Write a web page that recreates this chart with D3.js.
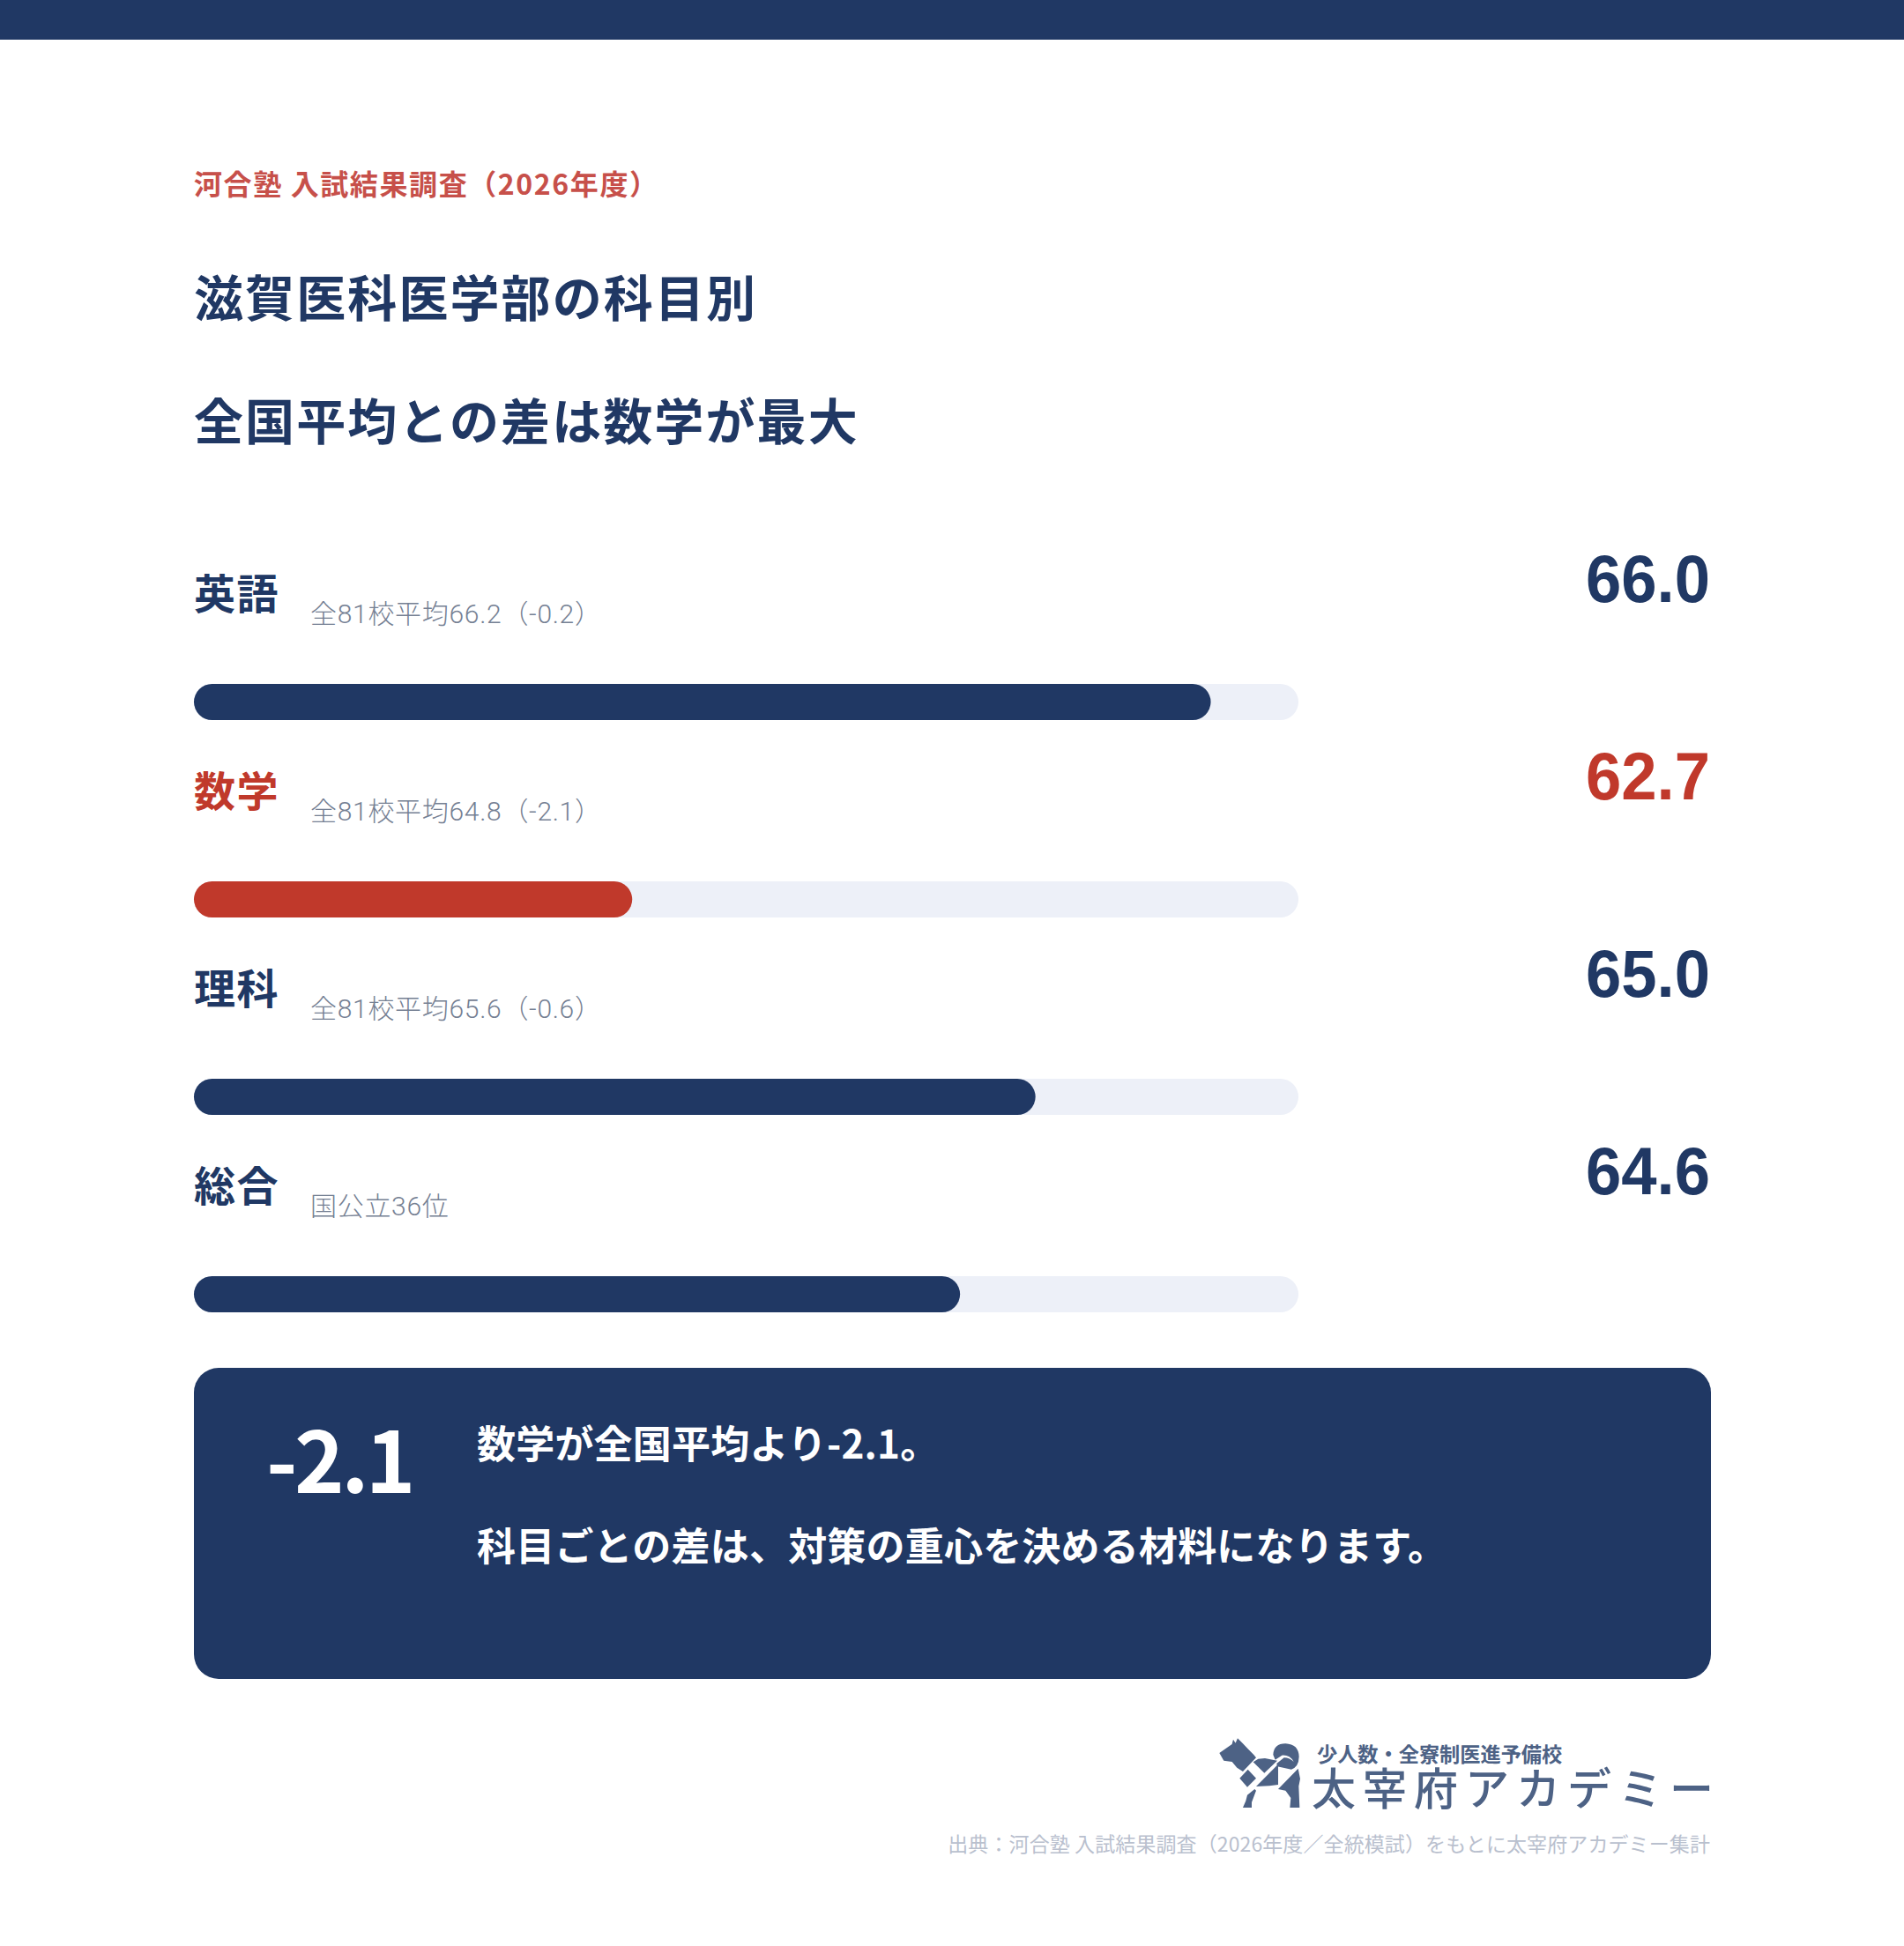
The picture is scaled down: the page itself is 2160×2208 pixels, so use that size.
<!DOCTYPE html>
<html lang="ja"><head><meta charset="utf-8">
<script src="https://cdn.jsdelivr.net/npm/d3@7"></script>
<style>html,body{margin:0;padding:0;background:#fff}svg{display:block}text{font-family:"Noto Sans CJK JP",sans-serif}text.num{font-family:"Liberation Sans",sans-serif}text.note{font-family:"Roboto","Noto Sans CJK JP",sans-serif}</style>
</head><body><svg id="c" width="2160" height="2208"></svg>
<script>
const subjects=["英語","数学","理科","総合"];
const values=[66.0,62.7,65.0,64.57];
const notes=["全81校平均66.2（-0.2）","全81校平均64.8（-2.1）","全81校平均65.6（-0.6）","国公立36位"];
const highlighted=["数学"];
const eyebrow="河合塾 入試結果調査（2026年度）";
const titleLines=["滋賀医科医学部の科目別","全国平均との差は数学が最大"];
const calloutValue="-2.1";
const calloutLines=["数学が全国平均より-2.1。","科目ごとの差は、対策の重心を決める材料になります。"];
const logoLines=["少人数・全寮制医進予備校","太宰府アカデミー"];
const source="出典：河合塾 入試結果調査（2026年度／全統模試）をもとに太宰府アカデミー集計";

const navy="#203864",red="#c0392b",track="#edf0f8";
const svg=d3.select("#c");
svg.append("rect").attr("width",2160).attr("height",2208).attr("fill","#fff");
svg.append("rect").attr("width",2160).attr("height",45).attr("fill",navy);
const L=220,R=1940;
const x=d3.scaleLinear().domain([60.2,66.5]).range([L,1473]);
const y=d3.scalePoint().domain(subjects).range([776,1448]);
function t(s,px,py,size,fill,weight,anchor,ls){return svg.append("text").text(s).attr("x",px).attr("y",py).attr("font-size",size).attr("fill",fill).attr("font-weight",weight||400).attr("text-anchor",anchor||"start").style("letter-spacing",(ls||0)+"px");}
t(eyebrow,L,221,32,"#c7504a",700,"start",1.6);
titleLines.forEach((s,i)=>t(s,L,359+i*140,56,navy,700,"start",2.1));
const rows=svg.selectAll("g.row").data(subjects).join("g").attr("class","row");
rows.each(function(d,i){
 const col=highlighted.includes(d)?red:navy, by=y(d);
 t(d,L,by-85,47,col,700,"start",1.4);
 t(notes[i],352,by-69,30,"#758093",300,"start",0.7).attr("class","note");
 t(values[i].toFixed(1),R,by-93,76,col,700,"end").attr("class","num").attr("textLength",141).attr("lengthAdjust","spacingAndGlyphs");
 svg.append("rect").attr("x",L).attr("y",by).attr("width",x.range()[1]-L).attr("height",41).attr("rx",20.5).attr("fill",track);
 svg.append("rect").attr("x",L).attr("y",by).attr("width",x(values[i])-L).attr("height",41).attr("rx",20.5).attr("fill",col);
});
svg.append("rect").attr("x",L).attr("y",1552).attr("width",R-L+1).attr("height",353).attr("rx",28).attr("fill",navy);
t(calloutValue,302,1694,96,"#fff",700,"start",-3.5);
t(calloutLines[0],541,1655,44,"#fff",700,"start",0.2);
t(calloutLines[1],541,1771,44,"#fff",700,"start",0.2);
const logo="#4d6285";
const g=svg.append("g").attr("fill",logo).attr("transform","translate(1375,1965) scale(0.3333)");
["M25 72 L68 42 L72 26 L80 38 L87 22 L105 40 L122 58 L142 78 L150 88 L105 135 L85 122 L68 102 L40 98 Z",
 "M157 92 L180 90 L222 98 L178 140 L140 103 Z",
 "M122 128 L150 158 L120 188 L94 158 Z",
 "M150 186 L225 110 L225 180 L195 184 Z",
 "M120 215 L145 195 L150 200 L135 240 L135 258 L105 258 L115 235 Z",
 "M208 78 Q210 40 250 40 Q295 42 296 85 Q295 120 270 128 L222 118 L220 108 L245 88 Q265 88 278 102 Q265 78 238 80 L215 95 Z",
 "M293 125 L300 160 L295 185 L298 258 L265 258 L268 225 L250 200 L225 195 Z"
].forEach(d=>g.append("path").attr("d",d));
t(logoLines[0],1494,1999,23.2,logo,700);
t(logoLines[1],1488,2048,50,logo,500,"start",8);
t(source,R,2101,23,"#b9c0ce",400,"end",0.1);
</script></body></html>
